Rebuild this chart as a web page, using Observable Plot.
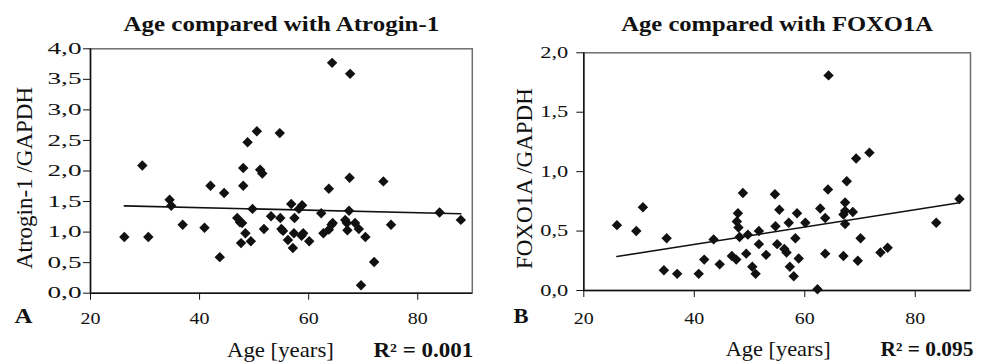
<!DOCTYPE html>
<html><head><meta charset="utf-8">
<script src="https://cdn.jsdelivr.net/npm/d3@7"></script>
<script src="https://cdn.jsdelivr.net/npm/@observablehq/plot@0.6"></script>
<style>
body{margin:0;background:#fff;}
#chart{position:relative;width:989px;height:362px;background:#fff;}
#chart svg{position:absolute;top:0;}
</style></head><body><div id="chart"></div>
<script>
// ---- Data ----
const ageA = [26.2,29.5,30.6,34.5,34.8,36.9,40.9,42.0,43.7,44.5,46.9,47.4,47.8,48.0,48.0,47.6,48.4,48.8,49.4,49.7,50.5,51.1,51.5,51.8,53.1,54.7,54.8,55.0,55.3,56.2,56.8,57.1,57.3,57.4,58.2,58.7,58.8,59.0,60.1,62.3,62.7,63.7,63.7,64.2,64.3,64.4,66.7,67.0,67.1,67.4,67.5,67.6,68.5,69.2,69.6,70.4,72.0,73.7,75.1,84.0,87.9];
const atrogin = [0.92,2.09,0.92,1.53,1.43,1.12,1.07,1.76,0.59,1.64,1.23,1.16,1.15,2.05,1.76,0.82,0.98,2.47,0.85,1.38,2.65,2.02,1.96,1.05,1.26,2.62,1.23,1.05,1.02,0.87,1.46,0.74,0.98,1.23,1.38,0.94,1.44,0.98,0.85,1.31,0.98,1.71,1.04,1.12,3.77,1.15,1.20,1.15,1.03,1.35,1.89,3.59,1.15,1.05,0.13,0.92,0.51,1.83,1.12,1.32,1.20];
const ageB = [26.0,29.5,30.7,34.5,35.0,36.9,40.8,41.8,43.5,44.6,46.8,47.6,47.7,47.9,48.0,48.2,48.8,49.4,49.7,50.5,51.1,51.7,51.7,53.0,54.6,54.7,55.0,55.4,56.3,56.7,57.1,57.3,58.0,58.3,58.6,58.9,60.1,62.3,62.8,63.7,63.7,64.3,64.2,67.0,67.0,67.3,67.3,67.3,67.6,68.7,69.3,69.6,70.1,71.7,73.7,75.0,83.8,88.0];
const foxo1a = [0.55,0.50,0.70,0.17,0.44,0.14,0.14,0.26,0.43,0.22,0.29,0.26,0.58,0.65,0.53,0.45,0.82,0.31,0.47,0.20,0.14,0.39,0.50,0.30,0.81,0.54,0.39,0.68,0.35,0.32,0.57,0.20,0.12,0.44,0.65,0.27,0.57,0.01,0.69,0.31,0.61,1.81,0.85,0.29,0.64,0.74,0.67,0.56,0.92,0.66,1.11,0.25,0.44,1.16,0.32,0.36,0.57,0.77];
// fitted regression lines (end points as shown)
const trendAgeA = [26.2, 87.9];
const trendAtrogin = [1.43, 1.30];
const trendAgeB = [26.0, 88.0];
const trendFoxo = [0.286, 0.738];
// axes
const ageDomain = [20, 90];
const ageTicks = [20, 40, 60, 80];
const atroginDomain = [0, 4];
const atroginTicks = [0, 0.5, 1, 1.5, 2, 2.5, 3, 3.5, 4];
const foxoDomain = [0, 2];
const foxoTicks = [0, 0.5, 1, 1.5, 2];
// texts
const titles = ["Age compared with Atrogin-1", "Age compared with FOXO1A"];
const panelLetters = ["A", "B"];
const yLabels = ["Atrogin-1 /GAPDH", "FOXO1A /GAPDH"];
const xLabel = "Age [years]";
const r2Labels = ["R\u00B2 = 0.001", "R\u00B2 = 0.095"];

const FONT = '"Liberation Serif","Times New Roman",Times,serif';
const INK = "#111";

function stretchTexts(texts, targetWidth) {
  if (!texts.length) return;
  const ref = Math.max(...texts.map(t => t.getComputedTextLength()));
  if (!ref) return;
  const s = targetWidth / ref;
  texts.forEach(t => {
    const tr = t.getAttribute("transform");
    if (tr) t.setAttribute("transform", tr + ` scale(${s},1)`);
    else {
      const x = parseFloat(t.getAttribute("x")) || 0;
      t.setAttribute("transform", `translate(${x},0) scale(${s},1) translate(${-x},0)`);
    }
  });
}
const byGroup = (svg, aria) => [...svg.querySelectorAll(`g[aria-label="${aria}"] text`)];
const byContent = (svg, str) => [...svg.querySelectorAll("text")].filter(t => t.textContent === str);

function panel(o) {
  const pts = o.ages.map((a, i) => ({age: a, value: o.values[i]}));
  const trend = o.trendAges.map((a, i) => ({age: a, value: o.trendValues[i]}));
  const fmt = d => d.toFixed(1).replace(".", ",");
  const svg = Plot.plot({
    width: o.width, height: 362,
    marginLeft: o.ml, marginRight: o.mr, marginTop: o.mt, marginBottom: o.mb,
    style: {fontFamily: FONT, color: INK, background: "white", overflow: "visible"},
    x: {domain: ageDomain},
    y: {domain: o.yDomain},
    marks: [
      Plot.frame({stroke: "#6e6e6e", strokeWidth: 1.5}),
      Plot.ruleX([ageDomain[0]], {stroke: INK, strokeWidth: 1.5}),
      Plot.ruleY([o.yDomain[0]], {stroke: INK, strokeWidth: 1.5}),
      Plot.axisX({ticks: ageTicks, tickSize: 7, tickPadding: o.xPad, fontSize: 17, label: null, tickFormat: d => String(d)}),
      Plot.axisY({ticks: o.yTicks, tickSize: 7, tickPadding: o.yPad, fontSize: 16, label: null, tickFormat: fmt}),
      Plot.line(trend, {x: "age", y: "value", stroke: INK, strokeWidth: 1.6}),
      Plot.dot(pts, {x: "age", y: "value", symbol: "diamond2", r: 4.7, fill: INK, stroke: "none"}),
      Plot.text([o.title], {frameAnchor: "top", dy: 30 - o.mt, lineAnchor: "bottom", textAnchor: "middle", fontWeight: "bold", fontSize: 21}),
      Plot.text([o.letter], {frameAnchor: "bottom-left", dx: o.letterDx, dy: o.letterDy, lineAnchor: "bottom", textAnchor: "start", fontWeight: "bold", fontSize: 20}),
      Plot.text([o.yLabel], {frameAnchor: "left", dx: o.yLabDx, dy: 7, rotate: -90, lineAnchor: "bottom", textAnchor: "middle", fontSize: 23}),
      Plot.text([xLabel], {frameAnchor: "bottom", dx: o.xLabDx, dy: o.xLabDy, lineAnchor: "bottom", textAnchor: "middle", fontSize: 20}),
      Plot.text([o.r2], {frameAnchor: "bottom-right", dx: o.r2Dx, dy: o.xLabDy, lineAnchor: "bottom", textAnchor: "end", fontWeight: "bold", fontSize: 20})
    ]
  });
  svg.style.left = o.left + "px";
  document.getElementById("chart").appendChild(svg);
  stretchTexts(byGroup(svg, "y-axis tick label"), o.yTickW);
  stretchTexts(byGroup(svg, "x-axis tick label"), 20);
  stretchTexts(byContent(svg, o.title), o.titleW);
  stretchTexts(byContent(svg, o.letter), o.letterW);
  stretchTexts(byContent(svg, xLabel), o.xLabW);
  stretchTexts(byContent(svg, o.r2), o.r2W);
  return svg;
}

panel({
  left: 0, width: 489, ml: 90, mr: 17.2, mt: 48.3, mb: 69.3,
  ages: ageA, values: atrogin, trendAges: trendAgeA, trendValues: trendAtrogin,
  yDomain: atroginDomain, yTicks: atroginTicks,
  title: titles[0], letter: panelLetters[0], yLabel: yLabels[0], r2: r2Labels[0],
  xPad: 11.7, yPad: 2, yTickW: 34, titleW: 316,
  letterDx: -76, letterDy: 29.6, letterW: 18,
  yLabDx: -59, xLabDx: -1, xLabDy: 64, xLabW: 107, r2Dx: 1, r2W: 100
});
panel({
  left: 489, width: 500, ml: 94.3, mr: 19, mt: 52.3, mb: 72,
  ages: ageB, values: foxo1a, trendAges: trendAgeB, trendValues: trendFoxo,
  yDomain: foxoDomain, yTicks: foxoTicks,
  title: titles[1], letter: panelLetters[1], yLabel: yLabels[1], r2: r2Labels[1],
  xPad: 14.6, yPad: 8.6, yTickW: 28, titleW: 312,
  letterDx: -70.3, letterDy: 32, letterW: 15,
  yLabDx: -52.3, xLabDx: 1, xLabDy: 65, xLabW: 105, r2Dx: 3, r2W: 93
});
</script></body></html>
